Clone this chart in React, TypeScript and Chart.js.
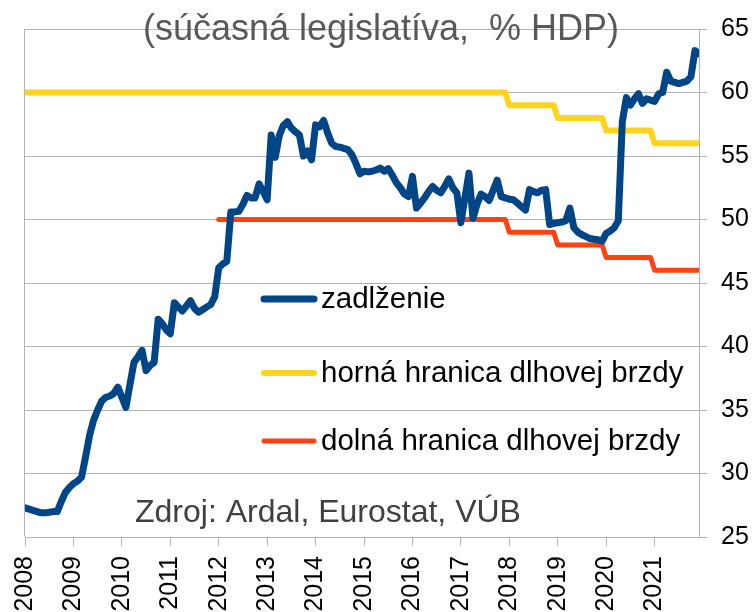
import { useEffect, useRef } from "react";
import { Chart, registerables } from "chart.js";

Chart.register(...registerables);

// Year tick labels (one tick every 12 months, Jan 2008 = month 0)
const years = ["2008", "2009", "2010", "2011", "2012", "2013", "2014", "2015", "2016", "2017", "2018", "2019", "2020", "2021"];

// Monthly gross debt, % of GDP (Jan 2008 .. Dec 2021)
const debt = [
  27.3, 27.2, 27.1, 27.0, 26.9, 26.9, 26.95, 27.0, 27.0, 27.8, 28.5, 28.9,
  29.2, 29.4, 29.7, 31.3, 33.0, 34.2, 35.0, 35.7, 36.0, 36.1, 36.3, 36.8,
  36.0, 35.2, 37.0, 38.75, 39.2, 39.7, 38.1, 38.5, 38.75, 42.15, 41.8, 41.3,
  41.0, 43.45, 43.1, 42.8, 43.2, 43.6, 43.0, 42.7, 42.9, 43.1, 43.3, 43.9,
  46.2, 46.5, 46.7, 50.6, 50.6, 50.65, 51.2, 51.9, 51.7, 51.7, 52.8, 52.2,
  51.55, 56.65, 54.9, 56.6, 57.4, 57.7, 57.2, 56.9, 56.65, 55.0, 55.4, 54.7,
  57.45, 57.3, 57.8, 56.8, 56.0, 55.75, 55.7, 55.6, 55.5, 55.1, 54.4, 53.6,
  53.8, 53.75, 53.8, 53.9, 54.05, 53.8, 54.0, 53.5, 52.9, 52.5, 52.0, 51.8,
  53.4, 50.9, 51.3, 51.7, 52.2, 52.6, 52.3, 52.1, 52.6, 53.2, 52.5, 52.1,
  49.75, 51.7, 53.65, 50.1, 51.2, 52.0, 51.8, 51.5, 52.3, 53.1, 51.8, 51.7,
  51.6, 51.55, 51.3, 51.0, 50.75, 52.35, 52.2, 52.1, 52.3, 52.35, 49.6, 49.7,
  49.75, 49.8, 49.9, 50.9, 49.35, 49.0, 48.8, 48.65, 48.5, 48.45, 48.4, 48.3,
  48.9, 49.1, 49.35, 49.9, 57.7, 59.6, 59.0, 59.5, 59.9, 59.15, 59.5, 59.4,
  59.3, 59.9, 60.0, 61.6, 60.9, 60.8, 60.7, 60.8, 60.9, 61.25, 63.3, 63.05,
];

// Debt-brake limits, one value per year (null = not defined)
const upperByYear = [60, 60, 60, 60, 60, 60, 60, 60, 60, 60, 59, 58, 57, 56];
const lowerByYear = [null, null, null, null, 50, 50, 50, 50, 50, 50, 49, 48, 47, 46];

const seriesNames = ["zadlženie", "horná hranica dlhovej brzdy", "dolná hranica dlhovej brzdy"];
const titleText = "(súčasná legislatíva,  % HDP)";
const sourceText = "Zdroj: Ardal, Eurostat, VÚB";

const BLUE = "#004586";
const YELLOW = "#FFD320";
const RED = "#FF420E";
const GRID = "#b3b3b3";
const FONT = "'Liberation Sans', Arial, sans-serif";

function monthly(byYear: (number | null)[]) {
  const pts: { x: number; y: number }[] = [];
  byYear.forEach((v, yi) => {
    if (v === null) return;
    for (let m = 0; m < 12; m++) pts.push({ x: yi * 12 + m, y: v });
  });
  return pts;
}

const overlay = {
  id: "overlay",
  beforeDatasetsDraw(chart: any) {
    const { ctx, chartArea } = chart;
    ctx.save();
    ctx.strokeStyle = GRID;
    ctx.lineWidth = 1;
    ctx.beginPath();
    ctx.moveTo(chartArea.left - 0.5, chartArea.top);
    ctx.lineTo(chartArea.left - 0.5, chartArea.bottom);
    ctx.stroke();
    ctx.restore();
  },
  afterDraw(chart: any) {
    const { ctx } = chart;
    ctx.save();
    // title
    ctx.fillStyle = "#595959";
    ctx.font = `36px ${FONT}`;
    ctx.textAlign = "center";
    ctx.textBaseline = "alphabetic";
    ctx.fillText(titleText, 381, 40);

    // legend
    const items = [
      { color: BLUE, width: 7, y: 299 },
      { color: YELLOW, width: 6, y: 373 },
      { color: RED, width: 5, y: 441 },
    ];
    ctx.textAlign = "left";
    ctx.textBaseline = "middle";
    ctx.font = `29.5px ${FONT}`;
    items.forEach((it, i) => {
      ctx.strokeStyle = it.color;
      ctx.lineWidth = it.width;
      ctx.lineCap = "round";
      ctx.beginPath();
      ctx.moveTo(264, it.y);
      ctx.lineTo(314, it.y);
      ctx.stroke();
      ctx.fillStyle = "#000";
      ctx.fillText(seriesNames[i], 321, it.y + 1);
    });

    // source
    ctx.fillStyle = "#404040";
    ctx.font = `32px ${FONT}`;
    ctx.textBaseline = "alphabetic";
    ctx.fillText(sourceText, 135, 522);
    ctx.restore();
  },
};

export default function App() {
  const ref = useRef<HTMLCanvasElement | null>(null);
  useEffect(() => {
    if (!ref.current) return;
    const chart = new Chart(ref.current, {
      type: "line",
      data: {
        datasets: [
          {
            label: seriesNames[0],
            data: debt.map((y, i) => ({ x: i, y })),
            borderColor: BLUE,
            borderWidth: 7,
            pointRadius: 0,
            borderJoinStyle: "round",
            borderCapStyle: "round",
            tension: 0,
          },
          {
            label: seriesNames[1],
            data: monthly(upperByYear),
            borderColor: YELLOW,
            borderWidth: 6,
            pointRadius: 0,
            borderJoinStyle: "round",
            borderCapStyle: "round",
          },
          {
            label: seriesNames[2],
            data: monthly(lowerByYear),
            borderColor: RED,
            borderWidth: 5,
            pointRadius: 0,
            borderJoinStyle: "round",
            borderCapStyle: "round",
          },
        ],
      },
      options: {
        animation: false,
        responsive: false,
        layout: { padding: { left: 25, top: 27, right: 0, bottom: 0 } },
        plugins: { legend: { display: false }, tooltip: { enabled: false }, title: { display: false } },
        scales: {
          x: {
            type: "linear",
            min: 0,
            max: 167,
            afterBuildTicks: (s: any) => {
              s.ticks = years.map((_, i) => ({ value: i * 12 }));
            },
            afterFit: (s: any) => {
              s.height = 75;
            },
            ticks: {
              autoSkip: false,
              maxRotation: 90,
              minRotation: 90,
              padding: 10,
              color: "#000",
              font: { family: FONT, size: 25 },
              callback: (v: any) => years[Math.round(Number(v) / 12)] ?? "",
            },
            grid: { drawOnChartArea: false, drawTicks: true, tickLength: 9, color: GRID },
            border: { display: true, color: GRID },
          },
          y: {
            position: "right",
            min: 25,
            max: 65,
            afterFit: (s: any) => {
              s.width = 57;
            },
            ticks: { stepSize: 5, padding: 14, color: "#000", font: { family: FONT, size: 25 } },
            grid: { color: GRID, tickLength: 8 },
            border: { display: true, color: GRID },
          },
        },
      },
      plugins: [overlay],
    } as any);
    return () => chart.destroy();
  }, []);
  return (
    <canvas
      ref={ref}
      width={756}
      height={612}
      style={{ position: "absolute", left: 0, top: 0, width: 756, height: 612 }}
    />
  );
}
